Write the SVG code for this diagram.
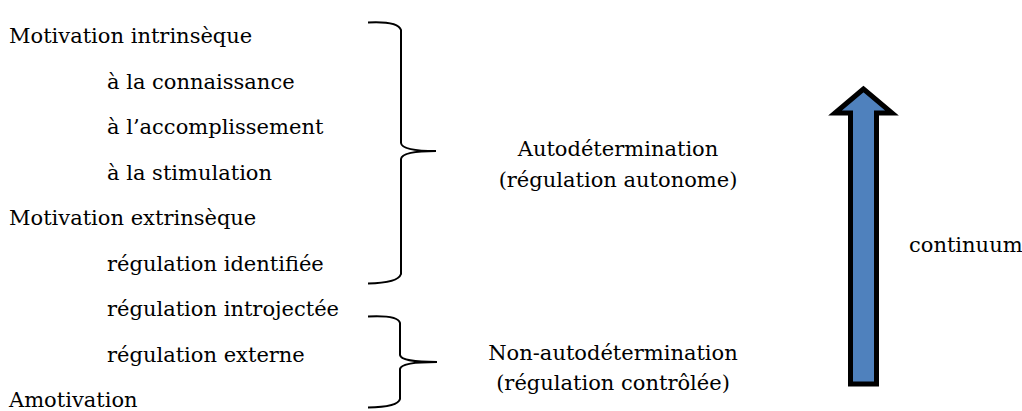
<svg xmlns="http://www.w3.org/2000/svg" width="1022" height="411" viewBox="0 0 1022 411">
<style>
text{font-family:"DejaVu Serif","Liberation Serif",serif;font-size:21px;fill:#000}
.c{text-anchor:middle}
.brace{fill:none;stroke:#000;stroke-width:2}
.arrow{fill:#4F81BD;stroke:#000;stroke-width:5;stroke-linejoin:miter}
</style>
<rect width="1022" height="411" fill="#fff"/>
<g id="list">
<text x="9" y="43">Motivation intrinsèque</text>
<text x="107" y="88.5">à la connaissance</text>
<text x="107" y="134">à l’accomplissement</text>
<text x="107" y="179.5">à la stimulation</text>
<text x="9" y="225">Motivation extrinsèque</text>
<text x="107" y="270.5">régulation identifiée</text>
<text x="107" y="316">régulation introjectée</text>
<text x="107" y="361.5">régulation externe</text>
<text x="9" y="407">Amotivation</text>
</g>
<g id="connectors">
<path id="brace-auto" class="brace" d="M368,22.5 Q398,21 401,30 L401,143 Q402,151 436,151 Q402,151 401,159 L401,274 Q398,283 368,283.5"/>
<path id="brace-nonauto" class="brace" d="M368,316.5 Q398,315 400,323 L400,355 Q401,362 437,362 Q401,362 400,369 L400,399 Q398,407 368,407.5"/>
</g>
<g id="label-auto">
<text class="c" x="618" y="156">Autodétermination</text>
<text class="c" x="618" y="187">(régulation autonome)</text>
</g>
<g id="label-nonauto">
<text class="c" x="613" y="360">Non-autodétermination</text>
<text class="c" x="613" y="390">(régulation contrôlée)</text>
</g>
<g id="arrow">
<polygon class="arrow" points="863.5,89 835,113 850.5,113 850.5,384 876.5,384 876.5,113 892,113"/>
</g>
<g id="label-continuum">
<text x="909" y="252">continuum</text>
</g>
</svg>
